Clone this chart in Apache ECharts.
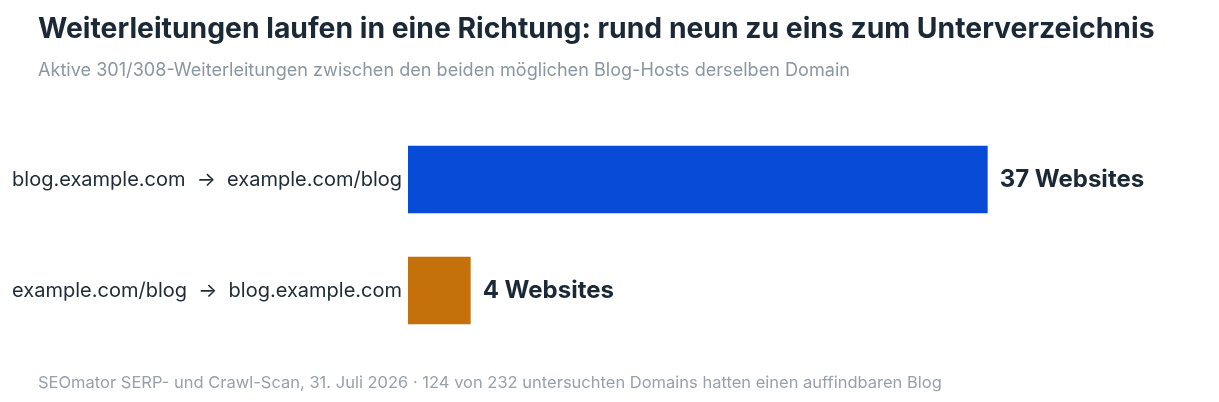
<!DOCTYPE html>
<html>
<head>
<meta charset="utf-8">
<script src="https://cdn.jsdelivr.net/npm/echarts@6/dist/echarts.min.js"></script>
<style>
  html, body { margin: 0; padding: 0; background: #fff; }
  #main { width: 1219px; height: 402px; }
</style>
</head>
<body>
<div id="main"></div>
<script>
var categories = ['blog.example.com  \u2192  example.com/blog', 'example.com/blog  \u2192  blog.example.com'];
var values = [37, 4];
var barColors = ['#074bd6', '#c4710c'];

var chart = echarts.init(document.getElementById('main'));
var font = 'Inter, "Noto Sans", sans-serif';

var option = {
  backgroundColor: '#ffffff',
  title: [{
    text: 'Weiterleitungen laufen in eine Richtung: rund neun zu eins zum Unterverzeichnis',
    left: 33, top: 10,
    textStyle: { fontFamily: font, fontSize: 28.3, fontWeight: 'bold', color: '#1b2835' }
  }, {
    text: 'Aktive 301/308-Weiterleitungen zwischen den beiden möglichen Blog-Hosts derselben Domain',
    left: 33, top: 57,
    textStyle: { fontFamily: font, fontSize: 18.1, fontWeight: 'normal', color: '#8c96a2' }
  }, {
    text: 'SEOmator SERP- und Crawl-Scan, 31. Juli 2026 · 124 von 232 untersuchten Domains hatten einen auffindbaren Blog',
    left: 33, top: 370,
    textStyle: { fontFamily: font, fontSize: 16.5, fontWeight: 'normal', color: '#98a1ab' }
  }],
  grid: { left: 408, right: 106, top: 124, bottom: 56 },
  xAxis: {
    type: 'value', min: 0, max: 45,
    show: false
  },
  yAxis: {
    type: 'category',
    data: categories,
    inverse: true,
    axisLine: { show: false },
    axisTick: { show: false },
    axisLabel: { margin: 6, fontFamily: font, fontSize: 20, color: '#1f2a36' }
  },
  series: [{
    type: 'bar',
    barCategoryGap: '39%',
    data: values.map(function (v, i) {
      return { value: v, itemStyle: { color: barColors[i] } };
    }),
    label: {
      show: true, position: 'right', distance: 12,
      formatter: '{c} Websites',
      fontFamily: font, fontSize: 24, fontWeight: 'bold', color: '#1b2835'
    },
    silent: true
  }]
};
chart.setOption(option);
</script>
</body>
</html>
